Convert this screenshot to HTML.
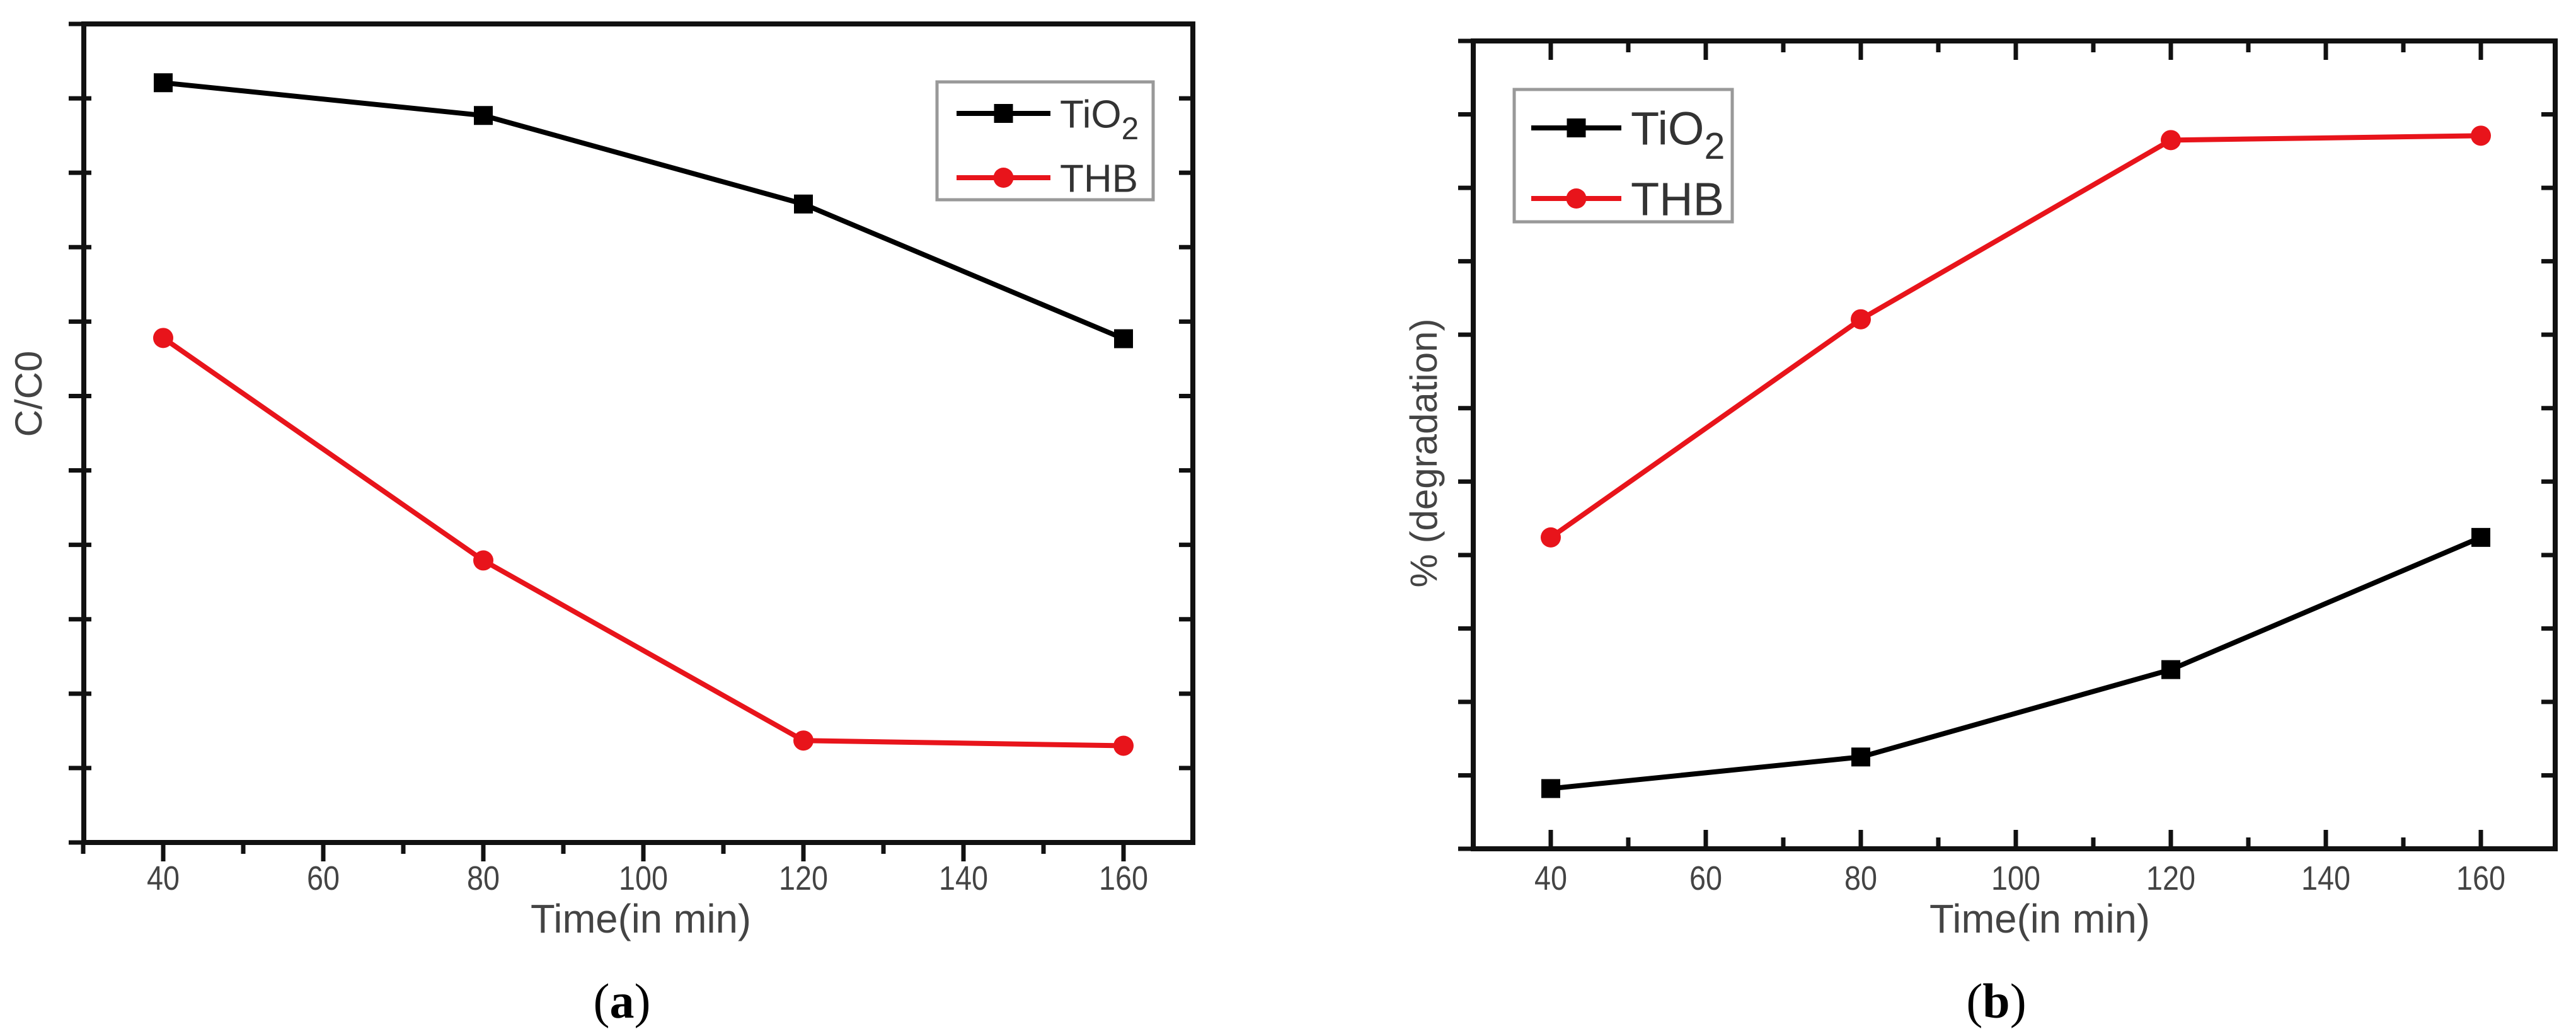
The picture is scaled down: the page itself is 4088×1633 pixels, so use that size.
<!DOCTYPE html>
<html><head><meta charset="utf-8"><style>
html,body{margin:0;padding:0;background:#fff;}
svg{display:block;font-family:"Liberation Sans",sans-serif;}
</style></head><body>
<svg id="fig" width="4088" height="1633" viewBox="0 0 4088 1633" xmlns="http://www.w3.org/2000/svg"></svg>
<script>
const categories = [40, 80, 120, 160];
const aTiO2 = [10.21, 9.77, 8.58, 6.77];
const aTHB = [6.78, 3.79, 1.37, 1.30];
const bTiO2 = [0.82, 1.25, 2.44, 4.24];
const bTHB = [4.24, 7.21, 9.65, 9.71];
const xTickLabels = [40, 60, 80, 100, 120, 140, 160];

const NS = 'http://www.w3.org/2000/svg';
const fig = document.getElementById('fig');
function mk(tag, attrs, parent) {
  const e = document.createElementNS(NS, tag);
  for (const k in attrs) e.setAttribute(k, attrs[k]);
  (parent || fig).appendChild(e);
  return e;
}

function chart(cfg) {
  const g = mk('g', {});
  
  
  const L = cfg.left, R = cfg.right, T = cfg.top, B = cfg.bottom;
  const x = v => cfg.x40 + (v - 40) * cfg.xs;
  const y = v => B - v * (B - T) / 11;
  const dir = cfg.bottomIn ? -1 : 1;
  for (let v = 30; v <= 170; v += 10) {
    const px = x(v);
    if (px < L - 2 || px > R + 2) continue;
    const major = v % 20 === 0;
    const len = major ? 30 : 18;
    const t = mk('line', {x1: px, x2: px, y1: B, y2: B + dir * len, stroke: '#111', 'stroke-width': 7}, g);
    
    
    if (cfg.topTicks) {
      const tt = mk('line', {x1: px, x2: px, y1: T, y2: T + len, stroke: '#111', 'stroke-width': 7}, g);
      
      
    }
  }
  xTickLabels.forEach(v => {
    const s = String(v);
    const t = mk('text', {x: x(v), y: cfg.tickY, 'font-size': 54, fill: '#444', 'text-anchor': 'middle', textLength: s.length * 26, lengthAdjust: 'spacingAndGlyphs'}, g);
    t.textContent = s;
    
    
  });
  for (let i = 0; i <= 11; i++) {
    const py = y(i);
    const t1 = mk('line', {x1: L - 24, x2: cfg.leftBoth ? L + 12 : L, y1: py, y2: py, stroke: '#111', 'stroke-width': 7}, g);
    
    
    const t2 = mk('line', {x1: R - 22, x2: R, y1: py, y2: py, stroke: '#111', 'stroke-width': 7}, g);
    
    
  }
  const fr = mk('rect', {x: L, y: T, width: R - L, height: B - T, fill: 'none', stroke: '#111', 'stroke-width': 8}, g);
  
  
  function series(vals, color, marker, nm) {
    const pts = vals.map((v, i) => x(categories[i]) + ',' + y(v)).join(' ');
    const pl = mk('polyline', {points: pts, fill: 'none', stroke: color, 'stroke-width': 8, 'stroke-linejoin': 'round'}, g);
    
    
    vals.forEach((v, i) => {
      let m;
      if (marker === 'sq') m = mk('rect', {x: x(categories[i]) - 15, y: y(v) - 15, width: 30, height: 30, fill: color}, g);
      else m = mk('circle', {cx: x(categories[i]), cy: y(v), r: 16, fill: color}, g);
      
      
    });
  }
  series(cfg.tio2, '#000', 'sq', 'tio2');
  series(cfg.thb, '#e8141b', 'ci', 'thb');
  const lg = cfg.legend;
  const lgG = mk('g', {}, g);
  
  
  mk('rect', {x: lg.x, y: lg.y, width: lg.w, height: lg.h, fill: '#fff', stroke: '#999', 'stroke-width': 5}, lgG);
  const e1 = mk('g', {}, lgG);
  
  
  mk('line', {x1: lg.lx1, x2: lg.lx2, y1: lg.y1, y2: lg.y1, stroke: '#000', 'stroke-width': 8}, e1);
  mk('rect', {x: (lg.lx1 + lg.lx2) / 2 - 15, y: lg.y1 - 15, width: 30, height: 30, fill: '#000'}, e1);
  const tx1 = mk('text', {x: lg.tx, y: lg.y1 + lg.fs * 0.36, 'font-size': lg.fs, fill: '#333'}, e1);
  tx1.innerHTML = 'TiO<tspan dy="' + lg.fs * 0.3 + '" font-size="' + lg.fs * 0.8 + '">2</tspan>';
  const e2 = mk('g', {}, lgG);
  
  
  mk('line', {x1: lg.lx1, x2: lg.lx2, y1: lg.y2, y2: lg.y2, stroke: '#e8141b', 'stroke-width': 8}, e2);
  mk('circle', {cx: (lg.lx1 + lg.lx2) / 2, cy: lg.y2, r: 16, fill: '#e8141b'}, e2);
  const tx2 = mk('text', {x: lg.tx, y: lg.y2 + lg.fs * 0.36, 'font-size': lg.fs, fill: '#333'}, e2);
  tx2.textContent = 'THB';
  const xt = mk('text', {x: cfg.xTitleX, y: 1480, 'font-size': 64, fill: '#444', 'text-anchor': 'middle', textLength: 350, lengthAdjust: 'spacingAndGlyphs'}, g);
  xt.textContent = 'Time(in min)';
  
  
  const yt = mk('text', {x: 0, y: 0, 'font-size': 60, fill: '#444', 'text-anchor': 'middle', transform: 'translate(' + cfg.yTitleX + ',' + cfg.yTitleY + ') rotate(-90)'}, g);
  yt.textContent = cfg.yTitle;
  
  
  const cap = mk('text', {x: cfg.capX, y: 1615, 'font-size': 78, fill: '#000', 'text-anchor': 'middle', 'font-family': '"Liberation Serif",serif'}, g);
  cap.innerHTML = '(<tspan font-weight="bold">' + cfg.cap + '</tspan>)';
  
  
}

chart({name: 'chart-a', left: 133, right: 1893, top: 38, bottom: 1337, x40: 259, xs: 12.7,
  tickY: 1412, tio2: aTiO2, thb: aTHB, xTitleX: 1017, yTitle: 'C/C0', yTitleX: 66, yTitleY: 625,
  capX: 987, cap: 'a', bottomIn: false, topTicks: false, leftBoth: true,
  legend: {x: 1487, y: 130, w: 343, h: 187, lx1: 1518, lx2: 1667, y1: 180, y2: 282, tx: 1682, fs: 62}});
chart({name: 'chart-b', left: 2338, right: 4055, top: 65, bottom: 1347, x40: 2461, xs: 12.3,
  tickY: 1412, tio2: bTiO2, thb: bTHB, xTitleX: 3237, yTitle: '% (degradation)', yTitleX: 2280, yTitleY: 719,
  capX: 3168, cap: 'b', bottomIn: true, topTicks: true, leftBoth: false,
  legend: {x: 2403, y: 142, w: 346, h: 210, lx1: 2430, lx2: 2573, y1: 203, y2: 315, tx: 2588, fs: 74}});
</script>
</body></html>
